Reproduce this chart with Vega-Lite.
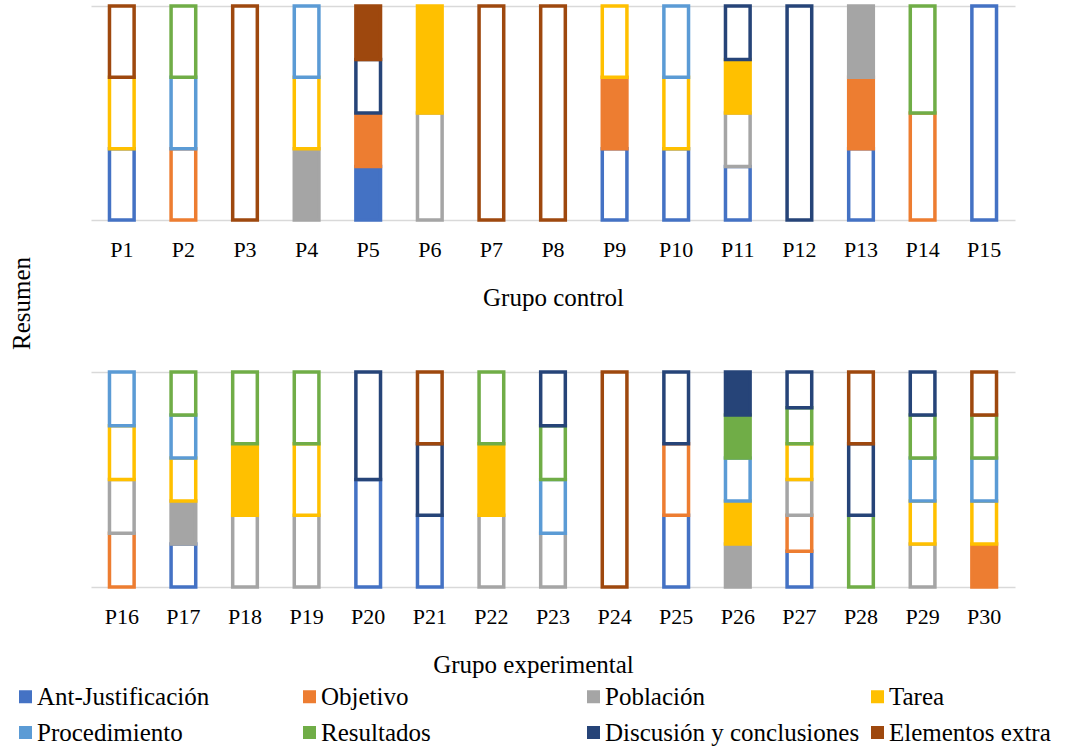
{
  "$schema": "https://vega.github.io/schema/vega-lite/v6.json",
  "background": "white",
  "padding": {"left": 9, "top": 4, "right": 0, "bottom": 4},
  "bounds": "flush",
  "spacing": 152,
  "config": {
    "view": {"stroke": null},
    "font": "Liberation Serif",
    "axis": {
      "labelFont": "Liberation Serif",
      "titleFont": "Liberation Serif",
      "labelColor": "#000000",
      "titleColor": "#000000",
      "titleFontWeight": "normal",
      "labelFontSize": 22,
      "titleFontSize": 25,
      "domain": false,
      "ticks": false,
      "tickSize": 0,
      "gridColor": "#d9d9d9",
      "gridWidth": 1.5
    }
  },
  "datasets": {
    "control": [
      {"p": "P1", "cat": "Ant-Justificación", "k": 1, "v": 1, "relleno": false},
      {"p": "P1", "cat": "Tarea", "k": 4, "v": 1, "relleno": false},
      {"p": "P1", "cat": "Elementos extra", "k": 8, "v": 1, "relleno": false},
      {"p": "P2", "cat": "Objetivo", "k": 2, "v": 1, "relleno": false},
      {"p": "P2", "cat": "Procedimiento", "k": 5, "v": 1, "relleno": false},
      {"p": "P2", "cat": "Resultados", "k": 6, "v": 1, "relleno": false},
      {"p": "P3", "cat": "Elementos extra", "k": 8, "v": 1, "relleno": false},
      {"p": "P4", "cat": "Población", "k": 3, "v": 1, "relleno": true},
      {"p": "P4", "cat": "Tarea", "k": 4, "v": 1, "relleno": false},
      {"p": "P4", "cat": "Procedimiento", "k": 5, "v": 1, "relleno": false},
      {"p": "P5", "cat": "Ant-Justificación", "k": 1, "v": 1, "relleno": true},
      {"p": "P5", "cat": "Objetivo", "k": 2, "v": 1, "relleno": true},
      {"p": "P5", "cat": "Discusión y conclusiones", "k": 7, "v": 1, "relleno": false},
      {"p": "P5", "cat": "Elementos extra", "k": 8, "v": 1, "relleno": true},
      {"p": "P6", "cat": "Población", "k": 3, "v": 1, "relleno": false},
      {"p": "P6", "cat": "Tarea", "k": 4, "v": 1, "relleno": true},
      {"p": "P7", "cat": "Elementos extra", "k": 8, "v": 1, "relleno": false},
      {"p": "P8", "cat": "Elementos extra", "k": 8, "v": 1, "relleno": false},
      {"p": "P9", "cat": "Ant-Justificación", "k": 1, "v": 1, "relleno": false},
      {"p": "P9", "cat": "Objetivo", "k": 2, "v": 1, "relleno": true},
      {"p": "P9", "cat": "Tarea", "k": 4, "v": 1, "relleno": false},
      {"p": "P10", "cat": "Ant-Justificación", "k": 1, "v": 1, "relleno": false},
      {"p": "P10", "cat": "Tarea", "k": 4, "v": 1, "relleno": false},
      {"p": "P10", "cat": "Procedimiento", "k": 5, "v": 1, "relleno": false},
      {"p": "P11", "cat": "Ant-Justificación", "k": 1, "v": 1, "relleno": false},
      {"p": "P11", "cat": "Población", "k": 3, "v": 1, "relleno": false},
      {"p": "P11", "cat": "Tarea", "k": 4, "v": 1, "relleno": true},
      {"p": "P11", "cat": "Discusión y conclusiones", "k": 7, "v": 1, "relleno": false},
      {"p": "P12", "cat": "Discusión y conclusiones", "k": 7, "v": 1, "relleno": false},
      {"p": "P13", "cat": "Ant-Justificación", "k": 1, "v": 1, "relleno": false},
      {"p": "P13", "cat": "Objetivo", "k": 2, "v": 1, "relleno": true},
      {"p": "P13", "cat": "Población", "k": 3, "v": 1, "relleno": true},
      {"p": "P14", "cat": "Objetivo", "k": 2, "v": 1, "relleno": false},
      {"p": "P14", "cat": "Resultados", "k": 6, "v": 1, "relleno": false},
      {"p": "P15", "cat": "Ant-Justificación", "k": 1, "v": 1, "relleno": false}
    ],
    "experimental": [
      {"p": "P16", "cat": "Objetivo", "k": 2, "v": 1, "relleno": false},
      {"p": "P16", "cat": "Población", "k": 3, "v": 1, "relleno": false},
      {"p": "P16", "cat": "Tarea", "k": 4, "v": 1, "relleno": false},
      {"p": "P16", "cat": "Procedimiento", "k": 5, "v": 1, "relleno": false},
      {"p": "P17", "cat": "Ant-Justificación", "k": 1, "v": 1, "relleno": false},
      {"p": "P17", "cat": "Población", "k": 3, "v": 1, "relleno": true},
      {"p": "P17", "cat": "Tarea", "k": 4, "v": 1, "relleno": false},
      {"p": "P17", "cat": "Procedimiento", "k": 5, "v": 1, "relleno": false},
      {"p": "P17", "cat": "Resultados", "k": 6, "v": 1, "relleno": false},
      {"p": "P18", "cat": "Población", "k": 3, "v": 1, "relleno": false},
      {"p": "P18", "cat": "Tarea", "k": 4, "v": 1, "relleno": true},
      {"p": "P18", "cat": "Resultados", "k": 6, "v": 1, "relleno": false},
      {"p": "P19", "cat": "Población", "k": 3, "v": 1, "relleno": false},
      {"p": "P19", "cat": "Tarea", "k": 4, "v": 1, "relleno": false},
      {"p": "P19", "cat": "Resultados", "k": 6, "v": 1, "relleno": false},
      {"p": "P20", "cat": "Ant-Justificación", "k": 1, "v": 1, "relleno": false},
      {"p": "P20", "cat": "Discusión y conclusiones", "k": 7, "v": 1, "relleno": false},
      {"p": "P21", "cat": "Ant-Justificación", "k": 1, "v": 1, "relleno": false},
      {"p": "P21", "cat": "Discusión y conclusiones", "k": 7, "v": 1, "relleno": false},
      {"p": "P21", "cat": "Elementos extra", "k": 8, "v": 1, "relleno": false},
      {"p": "P22", "cat": "Población", "k": 3, "v": 1, "relleno": false},
      {"p": "P22", "cat": "Tarea", "k": 4, "v": 1, "relleno": true},
      {"p": "P22", "cat": "Resultados", "k": 6, "v": 1, "relleno": false},
      {"p": "P23", "cat": "Población", "k": 3, "v": 1, "relleno": false},
      {"p": "P23", "cat": "Procedimiento", "k": 5, "v": 1, "relleno": false},
      {"p": "P23", "cat": "Resultados", "k": 6, "v": 1, "relleno": false},
      {"p": "P23", "cat": "Discusión y conclusiones", "k": 7, "v": 1, "relleno": false},
      {"p": "P24", "cat": "Elementos extra", "k": 8, "v": 1, "relleno": false},
      {"p": "P25", "cat": "Ant-Justificación", "k": 1, "v": 1, "relleno": false},
      {"p": "P25", "cat": "Objetivo", "k": 2, "v": 1, "relleno": false},
      {"p": "P25", "cat": "Discusión y conclusiones", "k": 7, "v": 1, "relleno": false},
      {"p": "P26", "cat": "Población", "k": 3, "v": 1, "relleno": true},
      {"p": "P26", "cat": "Tarea", "k": 4, "v": 1, "relleno": true},
      {"p": "P26", "cat": "Procedimiento", "k": 5, "v": 1, "relleno": false},
      {"p": "P26", "cat": "Resultados", "k": 6, "v": 1, "relleno": true},
      {"p": "P26", "cat": "Discusión y conclusiones", "k": 7, "v": 1, "relleno": true},
      {"p": "P27", "cat": "Ant-Justificación", "k": 1, "v": 1, "relleno": false},
      {"p": "P27", "cat": "Objetivo", "k": 2, "v": 1, "relleno": false},
      {"p": "P27", "cat": "Población", "k": 3, "v": 1, "relleno": false},
      {"p": "P27", "cat": "Tarea", "k": 4, "v": 1, "relleno": false},
      {"p": "P27", "cat": "Resultados", "k": 6, "v": 1, "relleno": false},
      {"p": "P27", "cat": "Discusión y conclusiones", "k": 7, "v": 1, "relleno": false},
      {"p": "P28", "cat": "Resultados", "k": 6, "v": 1, "relleno": false},
      {"p": "P28", "cat": "Discusión y conclusiones", "k": 7, "v": 1, "relleno": false},
      {"p": "P28", "cat": "Elementos extra", "k": 8, "v": 1, "relleno": false},
      {"p": "P29", "cat": "Población", "k": 3, "v": 1, "relleno": false},
      {"p": "P29", "cat": "Tarea", "k": 4, "v": 1, "relleno": false},
      {"p": "P29", "cat": "Procedimiento", "k": 5, "v": 1, "relleno": false},
      {"p": "P29", "cat": "Resultados", "k": 6, "v": 1, "relleno": false},
      {"p": "P29", "cat": "Discusión y conclusiones", "k": 7, "v": 1, "relleno": false},
      {"p": "P30", "cat": "Objetivo", "k": 2, "v": 1, "relleno": true},
      {"p": "P30", "cat": "Tarea", "k": 4, "v": 1, "relleno": false},
      {"p": "P30", "cat": "Procedimiento", "k": 5, "v": 1, "relleno": false},
      {"p": "P30", "cat": "Resultados", "k": 6, "v": 1, "relleno": false},
      {"p": "P30", "cat": "Elementos extra", "k": 8, "v": 1, "relleno": false}
    ]
  },
  "vconcat": [
    {
      "data": {"name": "control"},
      "width": 924,
      "height": 214,
      "mark": {"type": "bar", "strokeWidth": 3.5, "strokeJoin": "miter"},
      "encoding": {
        "x": {
          "field": "p", "type": "nominal", "sort": null,
          "scale": {"paddingInner": 0.6, "paddingOuter": 0.3},
          "axis": {"title": "Grupo control", "labelAngle": 0, "labelPadding": 19, "grid": false,
                   "titleX": 462, "titleY": 85, "titleAlign": "center", "titleBaseline": "alphabetic"}
        },
        "y": {
          "field": "v", "type": "quantitative", "stack": "normalize",
          "scale": {"domain": [0, 1], "nice": false},
          "axis": {"values": [0, 1], "labels": false, "grid": true, "title": "Resumen",
                   "titleX": -62, "titleY": 297, "titleAngle": -90, "titleAlign": "center", "titleBaseline": "alphabetic"}
        },
        "order": {"field": "k", "type": "quantitative"},
        "stroke": {
          "field": "cat", "type": "nominal", "legend": null,
          "scale": {
            "domain": ["Ant-Justificación", "Objetivo", "Población", "Tarea", "Procedimiento", "Resultados", "Discusión y conclusiones", "Elementos extra"],
            "range": ["#4472C4", "#ED7D31", "#A5A5A5", "#FFC000", "#5B9BD5", "#70AD47", "#264478", "#9E480E"]
          }
        },
        "fill": {
          "condition": {
            "test": "datum.relleno",
            "field": "cat", "type": "nominal",
            "scale": {
              "domain": ["Ant-Justificación", "Objetivo", "Población", "Tarea", "Procedimiento", "Resultados", "Discusión y conclusiones", "Elementos extra"],
              "range": ["#4472C4", "#ED7D31", "#A5A5A5", "#FFC000", "#5B9BD5", "#70AD47", "#264478", "#9E480E"]
            },
            "legend": {
              "title": null, "orient": "none", "legendX": -78, "legendY": 678, "direction": "horizontal",
              "columns": 4, "gridAlign": "all", "columnPadding": 5, "rowPadding": 10, "padding": 0,
              "symbolType": "square", "symbolSize": 169, "symbolStrokeWidth": 0,
              "labelFont": "Liberation Serif", "labelFontSize": 25, "labelColor": "#000000",
              "labelOffset": -1, "labelLimit": 500
            }
          },
          "value": "white"
        }
      }
    },
    {
      "data": {"name": "experimental"},
      "width": 924,
      "height": 215,
      "mark": {"type": "bar", "strokeWidth": 3.5, "strokeJoin": "miter"},
      "encoding": {
        "x": {
          "field": "p", "type": "nominal", "sort": null,
          "scale": {"paddingInner": 0.6, "paddingOuter": 0.3},
          "axis": {"title": "Grupo experimental", "labelAngle": 0, "labelPadding": 19, "grid": false,
                   "titleX": 442, "titleY": 85, "titleAlign": "center", "titleBaseline": "alphabetic"}
        },
        "y": {
          "field": "v", "type": "quantitative", "stack": "normalize",
          "scale": {"domain": [0, 1], "nice": false},
          "axis": {"values": [0, 1], "labels": false, "grid": true, "title": null}
        },
        "order": {"field": "k", "type": "quantitative"},
        "stroke": {
          "field": "cat", "type": "nominal", "legend": null,
          "scale": {
            "domain": ["Ant-Justificación", "Objetivo", "Población", "Tarea", "Procedimiento", "Resultados", "Discusión y conclusiones", "Elementos extra"],
            "range": ["#4472C4", "#ED7D31", "#A5A5A5", "#FFC000", "#5B9BD5", "#70AD47", "#264478", "#9E480E"]
          }
        },
        "fill": {
          "condition": {
            "test": "datum.relleno",
            "field": "cat", "type": "nominal",
            "scale": {
              "domain": ["Ant-Justificación", "Objetivo", "Población", "Tarea", "Procedimiento", "Resultados", "Discusión y conclusiones", "Elementos extra"],
              "range": ["#4472C4", "#ED7D31", "#A5A5A5", "#FFC000", "#5B9BD5", "#70AD47", "#264478", "#9E480E"]
            },
            "legend": {
              "title": null, "orient": "none", "legendX": -78, "legendY": 678, "direction": "horizontal",
              "columns": 4, "gridAlign": "all", "columnPadding": 5, "rowPadding": 10, "padding": 0,
              "symbolType": "square", "symbolSize": 169, "symbolStrokeWidth": 0,
              "labelFont": "Liberation Serif", "labelFontSize": 25, "labelColor": "#000000",
              "labelOffset": -1, "labelLimit": 500
            }
          },
          "value": "white"
        }
      }
    }
  ]
}
